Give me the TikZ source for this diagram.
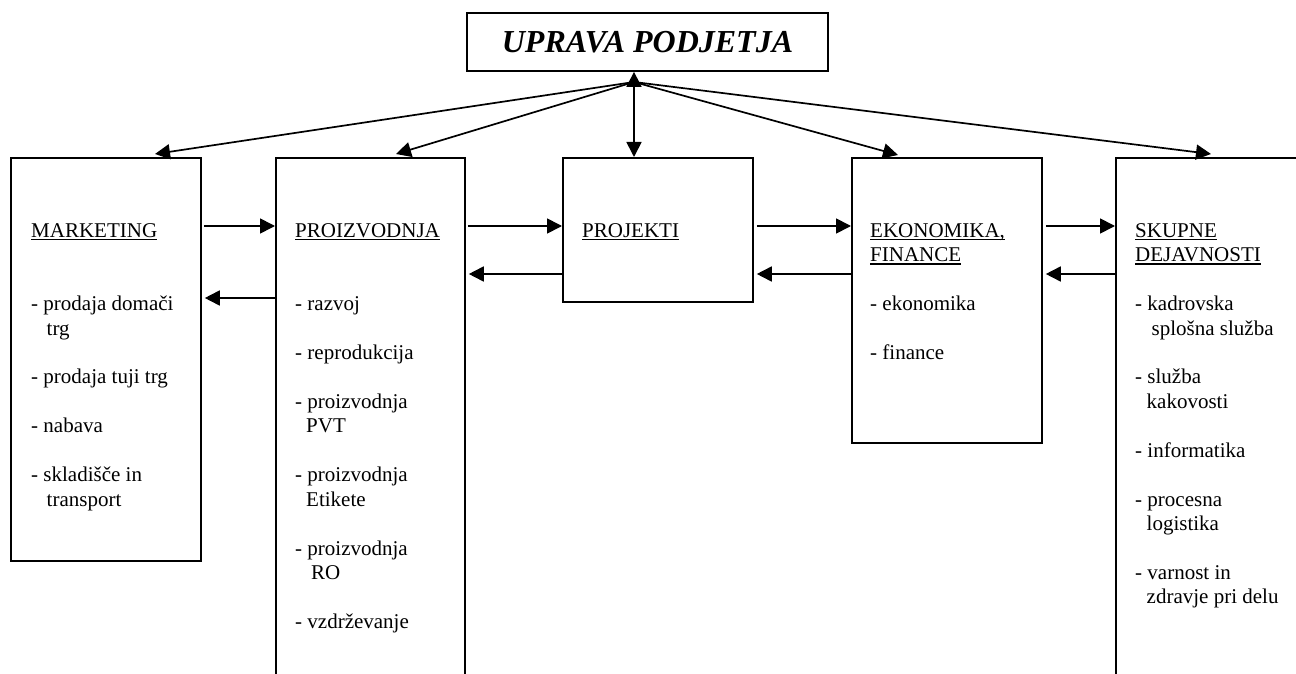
\documentclass[tikz,border=0pt]{standalone}
\usepackage{fontspec}
\setmainfont{Liberation Serif}
\usetikzlibrary{arrows.meta,calc}

% heading text with a Word-like underline
\newsavebox\headbox
\newcommand\headul[1]{\sbox\headbox{#1}\rlap{\rule[-3pt]{\wd\headbox}{1.2pt}}\usebox\headbox}

\begin{document}
\begin{tikzpicture}[x=1pt,y=-1pt,
  box/.style={draw, line width=1.8pt, rectangle, inner sep=0pt, anchor=north west},
  tip/.tip={Triangle[length=15pt,width=15pt]},
  arr/.style={line width=1.7pt, -tip},
  arrboth/.style={line width=1.7pt, tip-tip},
  body/.style={anchor=north west, inner sep=0pt, align=left, font=\fontsize{21}{24.45}\selectfont}]

\useasboundingbox (0,0) rectangle (1296,674);
\fill[white] (0,0) rectangle (1296,674);
\clip (0,0) rectangle (1296,674);

% management box
\node[draw, line width=1.8pt, minimum width=361pt, minimum height=58pt, inner sep=0pt,
      text height=21pt, text depth=0pt,
      font=\fontsize{32}{38}\selectfont\bfseries\itshape] (top) at (647.5,42) {UPRAVA PODJETJA};

% department boxes
\node[box, minimum width=190pt, minimum height=403pt] (mkt) at (10,157) {};
\node[box, minimum width=189pt, minimum height=560pt] (prz) at (275,157) {};
\node[box, minimum width=190pt, minimum height=144pt] (prj) at (562,157) {};
\node[box, minimum width=190pt, minimum height=285pt] (eko) at (851,157) {};
\node[box, minimum width=250pt, minimum height=560pt] (sku) at (1115,157) {};

% department texts
\node[body] (mkt-t) at (31,219.9) {\strut\headul{MARKETING}\\[48.9pt]
- prodaja domači\\
\hspace*{15.5pt}trg\\[24.45pt]
- prodaja tuji trg\\[24.45pt]
- nabava\\[24.45pt]
- skladišče in\\
\hspace*{15.5pt}transport};

\node[body] (prz-t) at (295,219.9) {\strut\headul{PROIZVODNJA}\\[48.9pt]
- razvoj\\[24.45pt]
- reprodukcija\\[24.45pt]
- proizvodnja\\
\hspace*{11pt}PVT\\[24.45pt]
- proizvodnja\\
\hspace*{11pt}Etikete\\[24.45pt]
- proizvodnja\\
\hspace*{16pt}RO\\[24.45pt]
- vzdrževanje};

\node[body] (prj-t) at (582,219.9) {\strut\headul{PROJEKTI}};

\node[body] (eko-t) at (870,219.9) {\strut\headul{EKONOMIKA,}\\
\headul{FINANCE}\\[24.45pt]
- ekonomika\\[24.45pt]
- finance};

\node[body] (sku-t) at (1135,219.9) {\strut\headul{SKUPNE}\\
\headul{DEJAVNOSTI}\\[24.45pt]
- kadrovska\\
\hspace*{16.5pt}splošna služba\\[24.45pt]
- služba\\
\hspace*{11.5pt}kakovosti\\[24.45pt]
- informatika\\[24.45pt]
- procesna\\
\hspace*{11.5pt}logistika\\[24.45pt]
- varnost in\\
\hspace*{11.5pt}zdravje pri delu};

% fan of arrows from the management box
\coordinate (hub) at (634,82);
\coordinate (t-mkt) at (155,154);
\coordinate (t-prz) at (396,154);
\coordinate (t-eko) at (898,155);
\coordinate (t-sku) at (1211,154);

\draw[arrboth] (hub |- top.south) -- (hub |- prj.north);
\draw[arr] (hub) -- (t-mkt);
\draw[arr] (hub) -- (t-prz);
\draw[arr] (hub) -- (t-eko);
\draw[arr] (hub) -- (t-sku);

% horizontal links between neighbouring departments
\coordinate (r1) at (0,226);
\coordinate (r2) at (0,274);
\coordinate (r3) at (0,298);

\draw[arr] ($(mkt.east |- r1)+(2,0)$) -- (prz.west |- r1);
\draw[arr] (prz.west |- r3) -- ($(mkt.east |- r3)+(3,0)$);
\draw[arr] ($(prz.east |- r1)+(2,0)$) -- (prj.west |- r1);
\draw[arr] (prj.west |- r2) -- ($(prz.east |- r2)+(3,0)$);
\draw[arr] ($(prj.east |- r1)+(3,0)$) -- (eko.west |- r1);
\draw[arr] (eko.west |- r2) -- ($(prj.east |- r2)+(3,0)$);
\draw[arr] ($(eko.east |- r1)+(3,0)$) -- (sku.west |- r1);
\draw[arr] (sku.west |- r2) -- ($(eko.east |- r2)+(3,0)$);
\end{tikzpicture}
\end{document}
